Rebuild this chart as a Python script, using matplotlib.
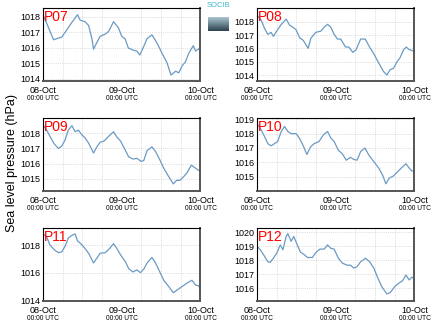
#!/usr/bin/env python3
import numpy as np
from matplotlib import pyplot as plt
from matplotlib.colors import LinearSegmentedColormap

plt.rcParams['font.family'] = ['Liberation Sans', 'DejaVu Sans']

# hours since 08-Oct 00:00 UTC, sea level pressure (hPa)
p07_h = [0, 1.5, 3.2, 4.7, 5.7, 6.7, 8.3, 9.3, 10.5, 11.3, 12.8, 13.9, 14.9, 15.4, 16.4, 17.4, 19, 20, 21.5,
         23, 24, 25, 26, 27.6, 28.6, 29.5, 30.7, 31.7, 33.2, 34.8, 36.3, 37.8, 39, 40.4, 41.4, 42.4, 43.4,
         44.4, 45.8, 46.5, 47.5, 48]
p07_v = [1018.15, 1017.4, 1016.53, 1016.64, 1016.7, 1017.0, 1017.5, 1017.8, 1018.15, 1017.8, 1017.7, 1017.45,
         1016.6, 1015.92, 1016.35, 1016.75, 1016.9, 1017.07, 1017.7, 1017.3, 1016.75, 1016.6, 1016.0, 1015.85,
         1015.8, 1015.55, 1016.1, 1016.6, 1016.85, 1016.3, 1015.65, 1015.05, 1014.25, 1014.5, 1014.4, 1014.85,
         1015.1, 1015.65, 1016.15, 1015.8, 1015.95, 1015.8]

p08_h = [0, 1.3, 2.3, 3.3, 4.3, 5, 6, 7.4, 8.9, 9.9, 10.9, 11.9, 13, 14.1, 15.6, 16.4, 17.9, 19.5, 20.5, 21.5,
         22.5, 23.4, 24.5, 25.5, 27, 28, 29.2, 30.2, 31.6, 33, 34.3, 35.6, 37.1, 38.6, 39.6, 40.6, 41.6, 42.7,
         43.6, 44.7, 45.5, 46.4, 47.2, 48]
p08_v = [1018.5, 1018.1, 1017.5, 1017.05, 1017.2, 1016.9, 1017.3, 1017.8, 1018.2, 1017.75, 1017.6, 1017.4,
         1016.8, 1016.6, 1016.0, 1016.75, 1017.2, 1017.3, 1017.6, 1017.8, 1017.6, 1017.1, 1016.7, 1016.7,
         1016.1, 1016.1, 1015.7, 1015.9, 1016.7, 1016.7, 1016.1, 1015.6, 1014.9, 1014.25, 1014.0, 1014.4,
         1014.5, 1015.0, 1015.3, 1015.9, 1016.1, 1015.9, 1015.85, 1015.75]

p09_h = [0, 1.1, 2.1, 3.4, 4.7, 5.7, 6.7, 7.7, 8.8, 9.8, 10.8, 11.8, 12.8, 13.9, 15.4, 16.4, 17.4, 18.7, 20,
         21.5, 22.5, 23.6, 24.8, 26.1, 27.4, 28.6, 29.9, 30.7, 31.7, 33.2, 34.3, 35.6, 36.8, 38.3, 39.7, 40.7,
         41.7, 42.9, 43.9, 45.2, 46.5, 47.5, 48]
p09_v = [1018.55, 1018.2, 1017.8, 1017.3, 1017.0, 1017.15, 1017.55, 1018.2, 1018.5, 1018.1, 1018.2, 1017.9,
         1017.7, 1017.35, 1016.7, 1017.1, 1017.4, 1017.5, 1017.8, 1018.1, 1017.75, 1017.5, 1017.0, 1016.45,
         1016.3, 1016.35, 1016.15, 1016.2, 1016.85, 1017.1, 1016.8, 1016.25, 1015.7, 1015.15, 1014.67, 1014.9,
         1014.9, 1015.15, 1015.4, 1015.9, 1015.7, 1015.55, 1015.5]

p10_h = [0, 1.3, 2.3, 3.3, 4.3, 5.3, 6.3, 7.4, 8.4, 9.4, 10.4, 11.9, 12.9, 14.1, 15.2, 16.4, 17.4, 18.9, 20.2,
         21.5, 22.5, 23.5, 24.8, 26, 27.2, 28.5, 29.5, 30.5, 31.6, 32.9, 34.1, 35.6, 37.1, 38.3, 39.3, 40.3,
         41.6, 42.9, 44.2, 45.4, 46.4, 47.2, 48]
p10_v = [1018.7, 1018.25, 1017.8, 1017.3, 1017.15, 1017.3, 1017.45, 1018.15, 1018.5, 1018.15, 1018.0, 1018.0,
         1017.7, 1017.15, 1016.55, 1017.1, 1017.3, 1017.45, 1017.9, 1018.15, 1017.7, 1017.45, 1016.85, 1016.6,
         1016.15, 1016.35, 1016.2, 1016.15, 1016.75, 1017.0, 1016.5, 1016.05, 1015.6, 1015.1, 1014.5, 1014.9,
         1015.05, 1015.35, 1015.65, 1015.9, 1015.6, 1015.4, 1015.4]

p11_h = [0, 1.1, 2.1, 3.7, 4.7, 5.7, 6.7, 7.7, 8.8, 9.8, 10.5, 11.5, 12.8, 13.9, 15.4, 16.4, 17.4, 19, 20.3,
         21.5, 22.5, 23.6, 25.1, 26.1, 27.4, 28.6, 29.7, 30.7, 31.7, 33.2, 34.3, 35.6, 36.8, 38.3, 39.7, 40.9,
         42.4, 43.9, 45.4, 46.5, 47.5, 48]
p11_v = [1018.8, 1018.6, 1018.0, 1017.6, 1017.45, 1017.5, 1017.9, 1018.5, 1018.7, 1018.8, 1018.3, 1018.1,
         1017.75, 1017.4, 1016.7, 1017.05, 1017.4, 1017.45, 1017.75, 1018.1, 1017.75, 1017.3, 1016.8, 1016.3,
         1016.05, 1016.2, 1016.0, 1016.25, 1016.7, 1017.1, 1016.7, 1016.05, 1015.45, 1015.0, 1014.55, 1014.75,
         1015.0, 1015.25, 1015.45, 1015.1, 1015.05, 1014.7]

p12_h = [0, 1, 2, 3.3, 4, 5, 6, 7.1, 7.9, 8.9, 9.4, 10.4, 11.2, 12.2, 13.2, 14.4, 15.4, 16.9, 17.9, 19.2, 20.5,
         21.5, 22.5, 23.5, 24.8, 26, 27.5, 28.5, 29.5, 30.5, 31.6, 33.1, 34.3, 35.6, 36.9, 38.1, 39.6, 40.6,
         41.9, 43.1, 44.4, 45.4, 46.4, 47.2, 48]
p12_v = [1019.0, 1018.75, 1018.4, 1017.9, 1017.85, 1018.15, 1018.5, 1019.1, 1018.75, 1019.7, 1019.9, 1019.35,
         1019.7, 1019.15, 1018.6, 1018.4, 1018.2, 1018.2, 1018.55, 1018.8, 1018.8, 1019.1, 1018.85, 1018.8,
         1018.15, 1017.8, 1017.65, 1017.65, 1017.45, 1017.55, 1017.9, 1018.15, 1017.9, 1017.45, 1016.7, 1016.1,
         1015.6, 1015.7, 1016.1, 1016.35, 1016.55, 1016.95, 1016.6, 1016.8, 1016.7]

names = ['P07', 'P08', 'P09', 'P10', 'P11', 'P12']
hours = [p07_h, p08_h, p09_h, p10_h, p11_h, p12_h]
values = [p07_v, p08_v, p09_v, p10_v, p11_v, p12_v]
ylims = [(1013.87, 1018.58), (1013.55, 1019.03), (1014.2, 1019.0),
         (1014.0, 1019.09), (1013.95, 1019.23), (1015.1, 1020.3)]
yticks = [[1014, 1015, 1016, 1017, 1018], [1014, 1015, 1016, 1017, 1018], [1015, 1016, 1017, 1018],
          [1015, 1016, 1017, 1018, 1019], [1014, 1016, 1018], [1016, 1017, 1018, 1019, 1020]]
day_labels = ['08-Oct', '09-Oct', '10-Oct']

fig = plt.figure(figsize=(4.35, 3.27), dpi=100)

lefts = [0.0989, 0.5908]
bottoms = [0.7523, 0.4159, 0.0795]
for i in range(6):
    row, col = divmod(i, 2)
    ax = fig.add_axes([lefts[col], bottoms[row], 0.362, 0.2232])
    ax.plot(hours[i], values[i], color='#6b9ac4', lw=0.9)
    ax.set_xlim(0, 48)
    ax.set_ylim(*ylims[i])
    ax.set_yticks(yticks[i])
    ax.set_yticklabels([str(t) for t in yticks[i]], fontsize=6.5)
    ax.set_xticks([0, 24, 48])
    ax.set_xticklabels(day_labels, fontsize=6.5)
    ax.set_xticks(np.arange(0, 49, 6), minor=True)
    ax.tick_params(which='both', length=0)
    ax.tick_params(axis='x', pad=3.5)
    ax.tick_params(axis='y', pad=2)
    ax.grid(True, which='minor', axis='x', color='#c4c4c4', ls=':', lw=0.5)
    ax.grid(True, which='major', axis='y', color='#c4c4c4', ls=':', lw=0.5)
    for s in ['left', 'top']:
        ax.spines[s].set_color('black')
        ax.spines[s].set_linewidth(0.8)
    for s in ['right', 'bottom']:
        ax.spines[s].set_color('#555555')
        ax.spines[s].set_linewidth(1.4)
    for x in [0, 24, 48]:
        ax.text(x, -0.235, '00:00 UTC', transform=ax.get_xaxis_transform(),
                ha='center', va='center', fontsize=4.8)
    ax.text(0.005, 0.97, names[i], transform=ax.transAxes, color='red',
            fontsize=10, ha='left', va='top')

fig.text(0.028, 0.5, 'Sea level pressure (hPa)', rotation=90, ha='center', va='center', fontsize=9)

# logo
fig.text(0.5025, 0.995, 'SOCIB', color='#3fbcd4', fontsize=5.5, ha='center', va='top')
lax = fig.add_axes([0.478, 0.905, 0.047, 0.042])
logo_cmap = LinearSegmentedColormap.from_list('logo', ['#a9c4cf', '#2e4450'])
lax.imshow(np.linspace(0, 1, 20).reshape(-1, 1), cmap=logo_cmap, aspect='auto')
lax.axis('off')

fig.savefig('out.png', dpi=100)
